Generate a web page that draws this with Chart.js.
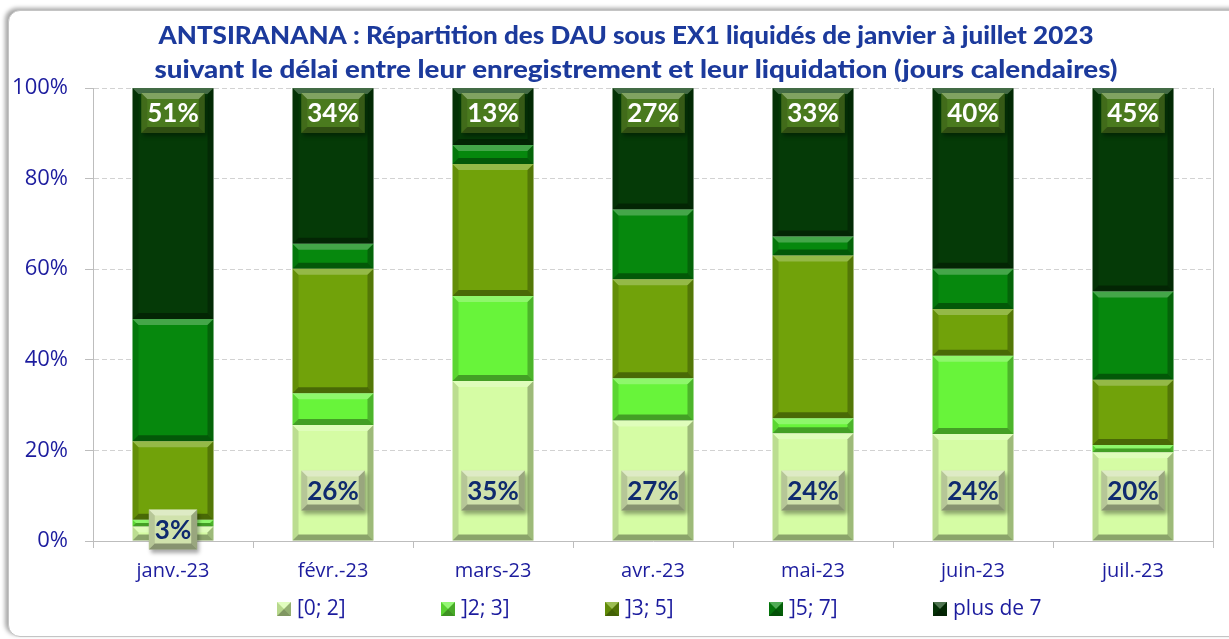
<!DOCTYPE html>
<html lang="fr">
<head>
<meta charset="utf-8">
<title>ANTSIRANANA - délai de liquidation</title>
<script src="https://cdn.jsdelivr.net/npm/chart.js@4/dist/chart.umd.min.js"></script>
<style>
  body { margin: 0; background: #fff; }
  .frame {
    position: absolute; left: 8px; top: 10px; width: 1260px; height: 625px;
    border: 1px solid #c4c4c4; border-radius: 12px;
    box-shadow: -3px -2px 4px rgba(0, 0, 0, 0.35);
    background: #fff;
  }
  #myChart { position: absolute; left: 0; top: 0; }
</style>
</head>
<body>
<div class="frame"></div>
<canvas id="myChart" width="1229" height="639"></canvas>
<script>
const ctx = document.getElementById("myChart");

const titleLines = [
  "ANTSIRANANA : Répartition des DAU sous EX1 liquidés de janvier à juillet 2023",
  "suivant le délai entre leur enregistrement et leur liquidation (jours calendaires)",
];
const months = ["janv.-23", "févr.-23", "mars-23", "avr.-23", "mai-23", "juin-23", "juil.-23"];
const seriesNames = ["[0; 2]", "]2; 3]", "]3; 5]", "]5; 7]", "plus de 7"];

// shares in %
const d0to2 = [3.2, 25.6, 35.3, 26.6, 23.8, 23.6, 19.6];
const d2to3 = [1.5, 7.0, 18.8, 9.3, 3.3, 17.3, 1.6];
const d3to5 = [17.3, 27.5, 29.1, 21.9, 35.9, 10.3, 14.4];
const d5to7 = [27.0, 5.5, 4.2, 15.4, 4.2, 8.9, 19.5];
const dOver7 = [51.0, 34.4, 12.6, 26.8, 32.8, 39.9, 44.9];
const yTicks = [0, 20, 40, 60, 80, 100];

const seriesColors = ["#d5fca4", "#68f43a", "#71a20a", "#06880d", "#053a07"];
const blue = "#1c1c9e";

// little Excel-like bevel on a rectangle
const bevel = (c, l, t, w, h, d, light, dark) => {
  const r = l + w, b = t + h;
  d = Math.min(d, w / 2, h / 2);
  const poly = (pts, fill) => {
    c.beginPath();
    c.moveTo(pts[0][0], pts[0][1]);
    pts.slice(1).forEach((p) => c.lineTo(p[0], p[1]));
    c.closePath();
    c.fillStyle = fill;
    c.fill();
  };
  poly([[l, t], [r, t], [r - d, t + d], [l + d, t + d]], `rgba(255,255,255,${light})`);
  poly([[l, b], [r, b], [r - d, b - d], [l + d, b - d]], `rgba(0,0,0,${dark})`);
  poly([[l, t], [l + d, t + d], [l + d, b - d], [l, b]], `rgba(0,0,0,${dark * 0.35})`);
  poly([[r, t], [r - d, t + d], [r - d, b - d], [r, b]], `rgba(0,0,0,${dark * 0.75})`);
};

const bevelPlugin = {
  id: "bevel",
  afterDatasetsDraw(chart) {
    const c = chart.ctx;
    c.save();
    chart.data.datasets.forEach((ds, i) => {
      chart.getDatasetMeta(i).data.forEach((bar) => {
        const { x, y, base, width } = bar.getProps(["x", "y", "base", "width"], true);
        const top = Math.min(y, base);
        const h = Math.abs(base - y);
        bevel(c, x - width / 2, top, width, h, 6, 0.25, 0.35);
      });
    });
    c.restore();
  },
};

const labelPlugin = {
  id: "boxLabels",
  afterDatasetsDraw(chart) {
    const c = chart.ctx;
    c.save();
    c.font = "bold 26px Lato, 'Open Sans', sans-serif";
    c.textAlign = "center";
    c.textBaseline = "middle";
    [0, 4].forEach((i) => {
      const ds = chart.data.datasets[i];
      chart.getDatasetMeta(i).data.forEach((bar, j) => {
        const { x, y, base } = bar.getProps(["x", "y", "base"], true);
        const txt = Math.round(ds.data[j]) + "%";
        const w = c.measureText(txt).width + 12;
        const h = 40;
        let cy;
        if (i === 4) cy = y + 25;
        else cy = base - y > 60 ? base - 50 : (y + base) / 2 - 4;
        const l = x - w / 2, t = cy - h / 2;
        c.save();
        c.shadowColor = "rgba(0,0,0,0.35)";
        c.shadowOffsetX = 2;
        c.shadowOffsetY = 3;
        c.shadowBlur = 4;
        c.fillStyle = i === 4 ? "#4a7a1e" : "#d0e2ac";
        c.fillRect(l, t, w, h);
        c.restore();
        bevel(c, l, t, w, h, 6, 0.3, 0.35);
        c.fillStyle = i === 4 ? "#ffffff" : "#0f2a6e";
        c.fillText(txt, x, cy + 1);
      });
    });
    c.restore();
  },
};

const framePlugin = {
  id: "frameText",
  beforeDatasetsDraw(chart) {
    const c = chart.ctx;
    const a = chart.chartArea;
    c.save();
    c.strokeStyle = "#c0c0c0";
    c.lineWidth = 1;
    c.beginPath();
    c.moveTo(a.right + 0.5, a.top);
    c.lineTo(a.right + 0.5, a.bottom + 7);
    c.stroke();
    c.restore();
  },
  afterDraw(chart) {
    const c = chart.ctx;
    c.save();
    // title, squeezed to the width of the original
    c.fillStyle = "#1c3a9c";
    c.font = "900 24px Lato, 'Open Sans', sans-serif";
    c.textBaseline = "middle";
    c.textAlign = "center";
    const targets = [[626, 36, 935], [636, 70, 963]];
    titleLines.forEach((line, i) => {
      const [cx, cy, tw] = targets[i];
      const mw = c.measureText(line).width;
      c.save();
      c.translate(cx, cy);
      c.scale(tw / mw, 1);
      c.fillText(line, 0, 0);
      c.restore();
    });
    // legend
    c.font = "21px 'Open Sans', sans-serif";
    c.textAlign = "left";
    seriesNames.forEach((name, i) => {
      const lx = 277 + i * 164;
      const ly = 609;
      c.fillStyle = seriesColors[i];
      c.fillRect(lx, ly - 7, 14, 14);
      bevel(c, lx, ly - 7, 14, 14, 7, 0.3, 0.4);
      c.fillStyle = blue;
      c.fillText(name, lx + 20, ly);
    });
    c.restore();
  },
};

const datasets = [d0to2, d2to3, d3to5, d5to7, dOver7].map((data, i) => ({
  label: seriesNames[i],
  data: data,
  backgroundColor: seriesColors[i],
  borderWidth: 0,
  categoryPercentage: 1,
  barPercentage: 0.506,
}));

new Chart(ctx, {
  type: "bar",
  data: { labels: months, datasets: datasets },
  plugins: [framePlugin, bevelPlugin, labelPlugin],
  options: {
    responsive: false,
    animation: false,
    layout: { padding: { left: 8, right: 16, top: 88, bottom: 48 } },
    plugins: {
      legend: { display: false },
      title: { display: false },
      tooltip: { enabled: false },
    },
    scales: {
      x: {
        stacked: true,
        afterFit: (s) => { s.height = 50; },
        grid: { display: true, drawOnChartArea: false, drawTicks: true, tickLength: 7, tickColor: "#bdbdbd" },
        border: { color: "#bdbdbd" },
        ticks: { color: blue, font: { family: "'Open Sans', sans-serif", size: 20 }, padding: 11 },
      },
      y: {
        stacked: true,
        min: 0,
        max: 100,
        afterFit: (s) => { s.width = 85; },
        afterBuildTicks: (s) => { s.ticks = yTicks.map((v) => ({ value: v })); },
        grid: { color: "#d2d2d2", tickLength: 8, tickColor: "#bdbdbd", tickBorderDash: [] },
        border: { color: "#bdbdbd", dash: [5, 3] },
        ticks: {
          color: blue,
          padding: 17,
          font: { family: "'Open Sans', sans-serif", size: 22 },
          callback: (v) => v + "%",
        },
      },
    },
  },
});
</script>
</body>
</html>
